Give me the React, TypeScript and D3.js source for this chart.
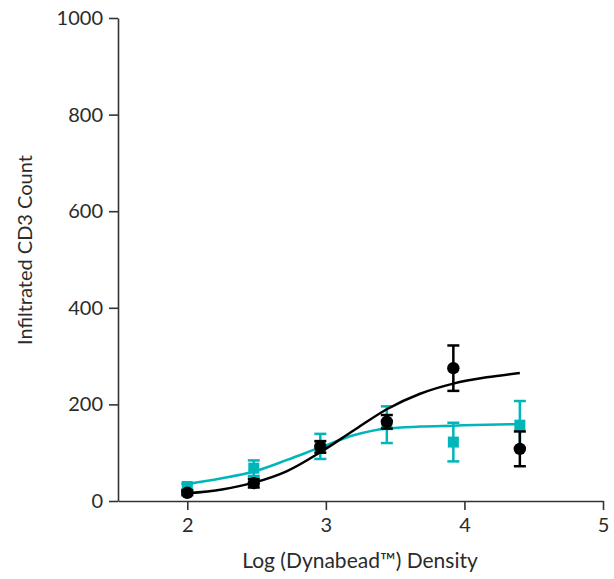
import React, { useEffect, useRef } from 'react'
import * as d3 from 'd3'

// measured points (log density)
const doses = [2.0, 2.48, 2.96, 3.44, 3.92, 4.4]

// black circles
const blackMean = [17, 37, 112, 164, 275, 108]
const blackErr = [5, 9, 12, 14, 47, 36]

// teal squares
const tealMean = [30, 68, 113, 158, 122, 157]
const tealErr = [6, 16, 26, 38, 40, 50]

// fitted curves
const fitX = [2.0, 2.25, 2.48, 2.72, 2.96, 3.2, 3.44, 3.68, 3.92, 4.16, 4.4]
const blackFit = [16, 24, 38, 62, 101, 146, 190, 222, 243, 256, 265]
const tealFit = [35, 47, 61, 85, 111, 136, 150, 154, 156, 158, 159]

const xTicks = [2, 3, 4, 5]
const yTicks = [0, 200, 400, 600, 800, 1000]

const TEAL = '#00b6b9'
const FONT = 'Lato, "Open Sans", sans-serif'

const App = () => {
  const ref = useRef<SVGSVGElement>(null)

  useEffect(() => {
    document.body.style.margin = '0'
    const svg = d3.select(ref.current)
    svg.selectAll('*').remove()

    const x = d3.scaleLinear().domain([1.5, 5]).range([118, 603])
    const y = d3.scaleLinear().domain([0, 1000]).range([501, 18])

    // axes
    const yAxis = svg.append('g')
      .attr('transform', 'translate(118,0)')
      .call(d3.axisLeft(y).tickValues(yTicks).tickSize(9).tickPadding(6).tickSizeOuter(0).tickFormat(d3.format('d')))
    const xAxis = svg.append('g')
      .attr('transform', 'translate(0,501)')
      .call(d3.axisBottom(x).tickValues(xTicks).tickSize(9).tickPadding(8).tickSizeOuter(0).tickFormat(d3.format('d')))
    ;[xAxis, yAxis].forEach(a => {
      a.select('.domain').attr('stroke', '#333').attr('stroke-width', 1.6)
      a.selectAll('.tick line').attr('stroke', '#333').attr('stroke-width', 1.6)
      a.selectAll('.tick text')
        .attr('fill', '#2b2b2b')
        .style('font-family', FONT)
        .style('font-size', '20px')
    })

    svg.append('text')
      .attr('x', 360)
      .attr('y', 568)
      .attr('text-anchor', 'middle')
      .attr('fill', '#2b2b2b')
      .style('font-family', FONT)
      .style('font-size', '21px')
      .text('Log (Dynabead™) Density')

    svg.append('text')
      .attr('transform', 'translate(32,250) rotate(-90)')
      .attr('text-anchor', 'middle')
      .attr('fill', '#2b2b2b')
      .style('font-family', FONT)
      .style('font-size', '20px')
      .text('Infiltrated CD3 Count')

    const line = d3.line<number>()
      .x((_, i) => x(fitX[i]))
      .y(d => y(d))
      .curve(d3.curveMonotoneX)

    const series = [
      { mean: tealMean, err: tealErr, fit: tealFit, color: TEAL, shape: 'square' },
      { mean: blackMean, err: blackErr, fit: blackFit, color: '#000', shape: 'circle' }
    ]

    series.forEach(s => {
      const g = svg.append('g')
      g.append('path')
        .attr('d', line(s.fit))
        .attr('fill', 'none')
        .attr('stroke', s.color)
        .attr('stroke-width', 2.5)

      doses.forEach((d, i) => {
        const cx = x(d)
        const top = y(s.mean[i] + s.err[i])
        const bot = y(s.mean[i] - s.err[i])
        g.append('line').attr('x1', cx).attr('x2', cx).attr('y1', top).attr('y2', bot)
          .attr('stroke', s.color).attr('stroke-width', 2.5)
        ;[top, bot].forEach(yy => {
          g.append('line').attr('x1', cx - 6).attr('x2', cx + 6).attr('y1', yy).attr('y2', yy)
            .attr('stroke', s.color).attr('stroke-width', 2.5)
        })
        if (s.shape === 'circle') {
          g.append('circle').attr('cx', cx).attr('cy', y(s.mean[i])).attr('r', 6.2).attr('fill', s.color)
        } else {
          g.append('rect').attr('x', cx - 5.5).attr('y', y(s.mean[i]) - 5.5)
            .attr('width', 11).attr('height', 11).attr('fill', s.color)
        }
      })
    })
  }, [])

  return <svg ref={ref} width={614} height={579} style={{ display: 'block' }} />
}

export default App
